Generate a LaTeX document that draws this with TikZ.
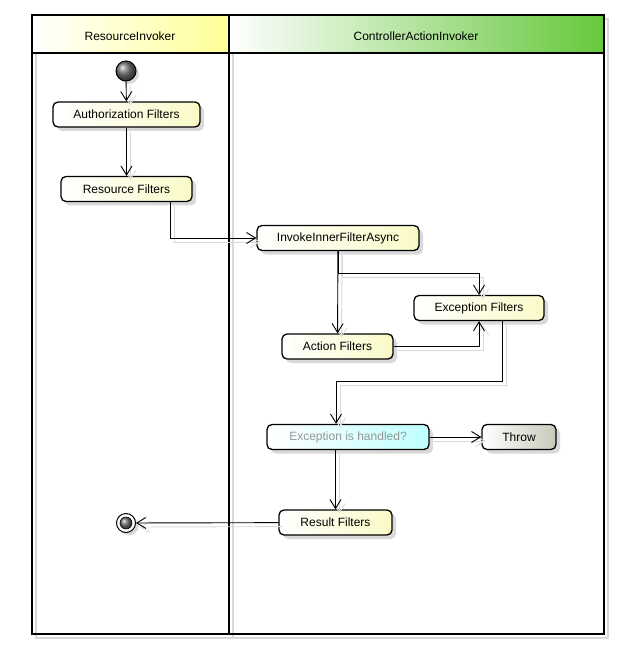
\documentclass[tikz,border=0pt]{standalone}
\usepackage{fontspec}
\setmainfont{Liberation Sans}
\usetikzlibrary{shadows,arrows.meta,calc}
\definecolor{nodey}{RGB}{250,250,200}
\definecolor{heady}{RGB}{255,255,150}
\definecolor{headg}{RGB}{102,200,60}
\definecolor{decc}{RGB}{190,255,255}
\definecolor{throwc}{RGB}{200,200,185}
\definecolor{dectext}{RGB}{150,150,150}
\begin{document}
\begin{tikzpicture}[x=1pt,y=-1pt,
  font=\fontsize{12}{14}\selectfont,
  actbox/.style={draw, line width=1.3pt, rounded corners=5pt, minimum height=25pt,
     inner sep=2pt, left color=white, right color=nodey,
     drop shadow={shadow xshift=4pt, shadow yshift=-4pt, fill=black, opacity=0.15}},
  flow/.style={draw, line width=0.9pt, -{Straight Barb[length=9pt,width=11pt]},
     preaction={draw=black!15, line width=0.9pt, -{Straight Barb[length=9pt,width=11pt]}, transform canvas={shift={(4pt,-4pt)}}}},
  lane/.style={draw, line width=1.5pt},
  laneshadow/.style={draw=black!15, line width=1.5pt}
]
\useasboundingbox (0,0) rectangle (630,652);
% lanes shadows
\draw[laneshadow] (36,19) rectangle (233,638);
\draw[laneshadow] (233,19) rectangle (608,638);
% headers
\path[left color=white, right color=heady] (32,15) rectangle (229,53);
\path[left color=white, right color=headg] (229,15) rectangle (604,53);
\draw[lane] (32,15) rectangle (229,634);
\draw[lane] (229,15) rectangle (604,634);
\draw[lane] (32,53) -- (604,53);
\node (h1) at (130,36) {ResourceInvoker};
\node (h2) at (416,36) {ControllerActionInvoker};

% nodes
\node[circle, draw, line width=1pt, minimum size=20pt, inner sep=0pt, shading=ball, ball color=black!55,
      drop shadow={shadow xshift=3pt, shadow yshift=-3pt, fill=black, opacity=0.15}] (start) at (126,71) {};
\node[actbox, minimum width=147pt] (auth) at (126.5,114.5) {Authorization Filters};
\node[actbox, minimum width=131pt] (res) at (126.5,189) {Resource Filters};
\node[actbox, minimum width=162pt] (inv) at (338,238) {InvokeInnerFilterAsync};
\node[actbox, minimum width=130pt] (exc) at (479,308) {Exception Filters};
\node[actbox, minimum width=111pt] (act) at (337.5,346.5) {Action Filters};
\node[actbox, minimum width=162pt, right color=decc, text=dectext] (dec) at (348,437) {Exception is handled?};
\node[actbox, minimum width=74pt, right color=throwc] (throw) at (519,437) {Throw};
\node[actbox, minimum width=113pt] (rf) at (335.5,522.5) {Result Filters};
\node[circle, draw, line width=1pt, minimum size=19pt, inner sep=0pt, fill=white,
      drop shadow={shadow xshift=3pt, shadow yshift=-3pt, fill=black, opacity=0.15}] (end) at (126,523) {};
\node[circle, draw, line width=0.6pt, minimum size=12pt, inner sep=0pt, shading=ball, ball color=black!55] (endin) at (end.center) {};

% connectors
\draw[flow] (start) -- (auth);
\draw[flow] (auth) -- (res);
\draw[flow] ($(res.south)+(44,0)$) |- (inv.west);
\draw[flow] (inv) -- (act);
\draw[flow] (inv.south) -- ++(0,22) -| (exc.north);
\draw[flow] (act.east) -| (exc.south);
\draw[flow] ($(exc.south)+(23,0)$) -- ++(0,60) -| ($(dec.north)+(-12,0)$);
\draw[flow] (dec) -- (throw);
\draw[flow] (dec.south -| rf.north) -- (rf.north);
\draw[flow] (rf) -- (end);
\end{tikzpicture}
\end{document}
